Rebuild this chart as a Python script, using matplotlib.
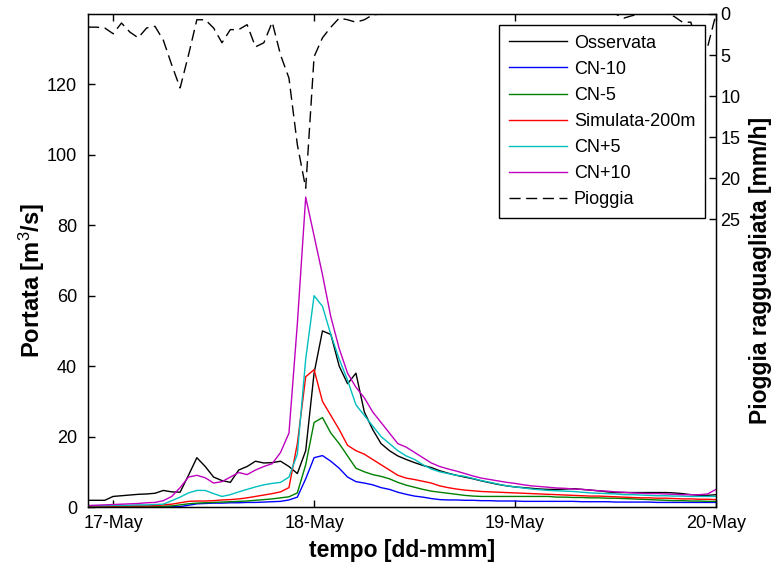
import numpy as np
import pandas as pd
import matplotlib
matplotlib.use('Agg')
import matplotlib.pyplot as plt
import matplotlib.dates as mdates

# hourly series, from 16-May 21:00 to 20-May 00:00
start = '2013-05-16 21:00'
n_hours = 76

osservata = [1.9, 1.9, 1.9, 3.0, 3.2, 3.4, 3.6, 3.7, 3.9, 4.7, 4.3, 4.2, 9.0, 14.0,
             11.5, 8.5, 7.5, 7.0, 10.5, 11.5, 13.0, 12.5, 12.6, 13.0, 11.5, 9.5, 16.0,
             38.0, 50.0, 49.0, 40.0, 35.0, 38.0, 27.0, 22.0, 18.0, 16.0, 14.5, 13.5,
             12.6, 11.8, 11.2, 10.3, 9.6, 9.0, 8.5, 8.0, 7.4, 6.9, 6.4, 6.0, 5.7, 5.5,
             5.3, 5.1, 5.0, 5.0, 5.1, 5.2, 5.0, 4.8, 4.6, 4.3, 4.1, 4.1, 4.1, 4.1, 4.1,
             4.1, 4.1, 4.0, 3.8, 3.5, 3.3, 3.3, 3.5]
cn_m10 = [0.1, 0.1, 0.1, 0.1, 0.1, 0.1, 0.1, 0.1, 0.1, 0.1, 0.1, 0.1, 0.5, 0.9,
          1.0, 1.1, 1.1, 1.2, 1.2, 1.3, 1.3, 1.4, 1.5, 1.6, 2.0, 2.8, 8.0, 14.0,
          14.6, 13.0, 11.0, 8.5, 7.2, 6.8, 6.3, 5.5, 5.0, 4.2, 3.6, 3.1, 2.8, 2.4,
          2.1, 2.0, 2.0, 1.9, 1.9, 1.8, 1.8, 1.7, 1.7, 1.7, 1.6, 1.6, 1.6, 1.6, 1.6,
          1.6, 1.6, 1.5, 1.5, 1.5, 1.5, 1.4, 1.4, 1.4, 1.4, 1.4, 1.3, 1.3, 1.3, 1.3,
          1.3, 1.3, 1.3, 1.3]
cn_m5 = [0.2, 0.2, 0.2, 0.2, 0.2, 0.2, 0.2, 0.2, 0.2, 0.2, 0.3, 0.6, 0.9, 1.1,
         1.2, 1.3, 1.4, 1.5, 1.6, 1.7, 1.9, 2.1, 2.3, 2.6, 2.9, 4.0, 12.0, 24.0,
         25.4, 21.0, 18.0, 14.5, 11.0, 10.0, 9.2, 8.7, 8.0, 7.0, 6.2, 5.6, 5.0, 4.5,
         4.2, 3.9, 3.6, 3.3, 3.1, 3.0, 3.0, 3.0, 3.0, 3.0, 3.0, 3.0, 3.0, 3.0, 2.8,
         2.8, 2.7, 2.7, 2.6, 2.6, 2.5, 2.5, 2.4, 2.3, 2.2, 2.1, 2.0, 1.9, 1.8, 1.8,
         1.7, 1.7, 1.6, 1.6]
simulata = [0.3, 0.3, 0.3, 0.3, 0.3, 0.3, 0.3, 0.3, 0.4, 0.6, 0.8, 1.2, 1.6, 1.7,
            1.7, 1.8, 2.0, 2.1, 2.3, 2.6, 3.0, 3.4, 3.8, 4.3, 5.5, 18.0, 37.0, 39.0,
            30.0, 26.0, 22.0, 17.5, 16.0, 15.0, 13.5, 12.0, 10.5, 9.0, 8.2, 7.8, 7.3,
            6.8, 6.0, 5.5, 5.1, 4.8, 4.6, 4.4, 4.3, 4.2, 4.1, 4.0, 3.9, 3.8, 3.7, 3.6,
            3.5, 3.4, 3.3, 3.2, 3.1, 3.1, 3.0, 2.9, 2.8, 2.7, 2.6, 2.6, 2.5, 2.5, 2.4,
            2.3, 2.3, 2.2, 2.2, 2.1]
cn_p5 = [0.4, 0.4, 0.4, 0.5, 0.5, 0.5, 0.6, 0.6, 0.7, 0.8, 1.8, 2.8, 4.0, 4.7,
         4.7, 3.8, 3.0, 3.5, 4.3, 5.0, 5.7, 6.3, 6.7, 7.0, 8.5, 15.0, 42.0, 60.0,
         57.0, 49.0, 42.0, 36.0, 29.0, 26.0, 23.0, 20.0, 18.0, 16.0, 14.5, 13.5,
         12.0, 10.8, 10.0, 9.5, 9.0, 8.7, 8.1, 7.5, 7.0, 6.5, 6.0, 5.7, 5.4, 5.1,
         4.9, 4.7, 4.6, 4.5, 4.4, 4.2, 4.0, 3.9, 3.8, 3.7, 3.5, 3.5, 3.4, 3.3, 3.2,
         3.2, 3.1, 3.1, 3.0, 3.0, 3.0, 3.0]
cn_p10 = [0.4, 0.5, 0.6, 0.7, 0.8, 0.9, 1.0, 1.2, 1.3, 1.8, 3.0, 5.5, 8.5, 9.0,
          8.3, 6.8, 7.2, 8.5, 9.8, 9.2, 10.5, 11.5, 12.3, 15.5, 21.0, 52.0, 88.0,
          77.0, 66.0, 54.0, 45.0, 38.0, 34.0, 31.0, 27.0, 24.0, 21.0, 18.0, 17.0,
          15.5, 14.0, 12.5, 11.5, 10.8, 10.2, 9.5, 8.8, 8.2, 7.8, 7.4, 7.0, 6.7, 6.3,
          6.0, 5.8, 5.6, 5.4, 5.3, 5.1, 5.0, 4.8, 4.6, 4.5, 4.3, 4.2, 4.0, 3.9, 3.8,
          3.8, 3.7, 3.6, 3.5, 3.5, 3.5, 3.7, 5.0]
pioggia = [1.6, 1.6, 1.7, 2.4, 1.1, 2.2, 2.9, 1.7, 1.5, 3.2, 6.2, 9.0, 5.0, 0.7,
           0.7, 1.7, 3.5, 1.9, 1.9, 1.3, 4.0, 3.5, 1.0, 5.0, 7.8, 15.9, 21.2, 5.2,
           2.9, 1.6, 0.5, 0.7, 1.0, 0.7, 0.1, 0.0, 0.0, 0.0, 0.0, 0.0, 0.0, 0.0,
           0.0, 0.0, 0.0, 0.0, 0.0, 0.0, 0.0, 0.0, 0.0, 0.0, 0.0, 0.0, 0.0, 0.0, 0.0,
           0.0, 0.0, 0.0, 0.0, 0.0, 0.0, 0.0, 0.5, 0.2, 0.0, 0.0, 0.0, 0.0, 0.3, 1.0,
           1.0, 5.0, 4.0, 0.0]

serie = [('Osservata', osservata, 'k'),
         ('CN-10', cn_m10, (0, 0, 1)),
         ('CN-5', cn_m5, (0, 0.5, 0)),
         ('Simulata-200m', simulata, (1, 0, 0)),
         ('CN+5', cn_p5, (0, 0.75, 0.75)),
         ('CN+10', cn_p10, (0.75, 0, 0.75))]

plt.rcParams['font.family'] = ['Liberation Sans', 'DejaVu Sans']
plt.rcParams['mathtext.fontset'] = 'custom'
plt.rcParams['mathtext.rm'] = 'Liberation Sans'
plt.rcParams['mathtext.it'] = 'Liberation Sans:italic'
plt.rcParams['mathtext.bf'] = 'Liberation Sans:bold'


def main():
    tempo = pd.date_range(start, periods=n_hours, freq='h')

    fig = plt.figure(figsize=(7.8, 5.72), dpi=100)
    ax = fig.add_axes([88/780, 1-507/572, (716-88)/780, (507-14)/572])

    handles = []
    for nome, valori, colore in serie:
        h, = ax.plot(tempo, valori, color=colore, lw=1.0, label=nome)
        handles.append(h)

    ax.set_xlim(tempo[0], pd.Timestamp('2013-05-20 00:00'))
    ax.set_ylim(0, 140)
    ax.set_yticks(np.arange(0, 121, 20))
    ax.xaxis.set_major_locator(mdates.DayLocator())
    ax.xaxis.set_major_formatter(mdates.DateFormatter('%d-%b'))
    ax.tick_params(direction='in', length=5, width=1, labelsize=13,
                   top=True, right=True, pad=6)
    ax.tick_params(axis='y', pad=8)
    for s in ax.spines.values():
        s.set_linewidth(1.0)
    ax.set_xlabel('tempo [dd-mmm]', fontsize=16.5, fontweight='bold', labelpad=5)
    ax.set_ylabel(r'Portata [m$^3$/s]', fontsize=17, fontweight='bold')
    ax.yaxis.set_label_coords(-0.066, 0.46)

    # pioggia sull'asse destro, rovesciato
    ax2 = ax.twinx()
    hp, = ax2.plot(tempo, pioggia, color='k', lw=1.0, linestyle=(0, (8, 4)),
                   label='Pioggia')
    handles.append(hp)
    ax2.set_ylim(60, 0)
    ax2.set_yticks(np.arange(0, 26, 5))
    ax2.tick_params(direction='in', length=5, width=1, labelsize=13, pad=3)
    ax2.set_ylabel('Pioggia ragguagliata [mm/h]', fontsize=16.5, fontweight='bold')
    ax2.yaxis.set_label_coords(1.053, 0.48)

    leg = ax2.legend(handles=handles, loc='upper right', bbox_to_anchor=(0.9825, 0.978),
                     fontsize=13, frameon=True, fancybox=False, framealpha=1,
                     edgecolor='k', handlelength=3.2, handletextpad=0.38,
                     labelspacing=0.5, borderpad=0.55, borderaxespad=0)
    leg.get_frame().set_linewidth(1.0)

    fig.savefig('out.png', dpi=100, facecolor='white')


if __name__ == '__main__':
    main()
